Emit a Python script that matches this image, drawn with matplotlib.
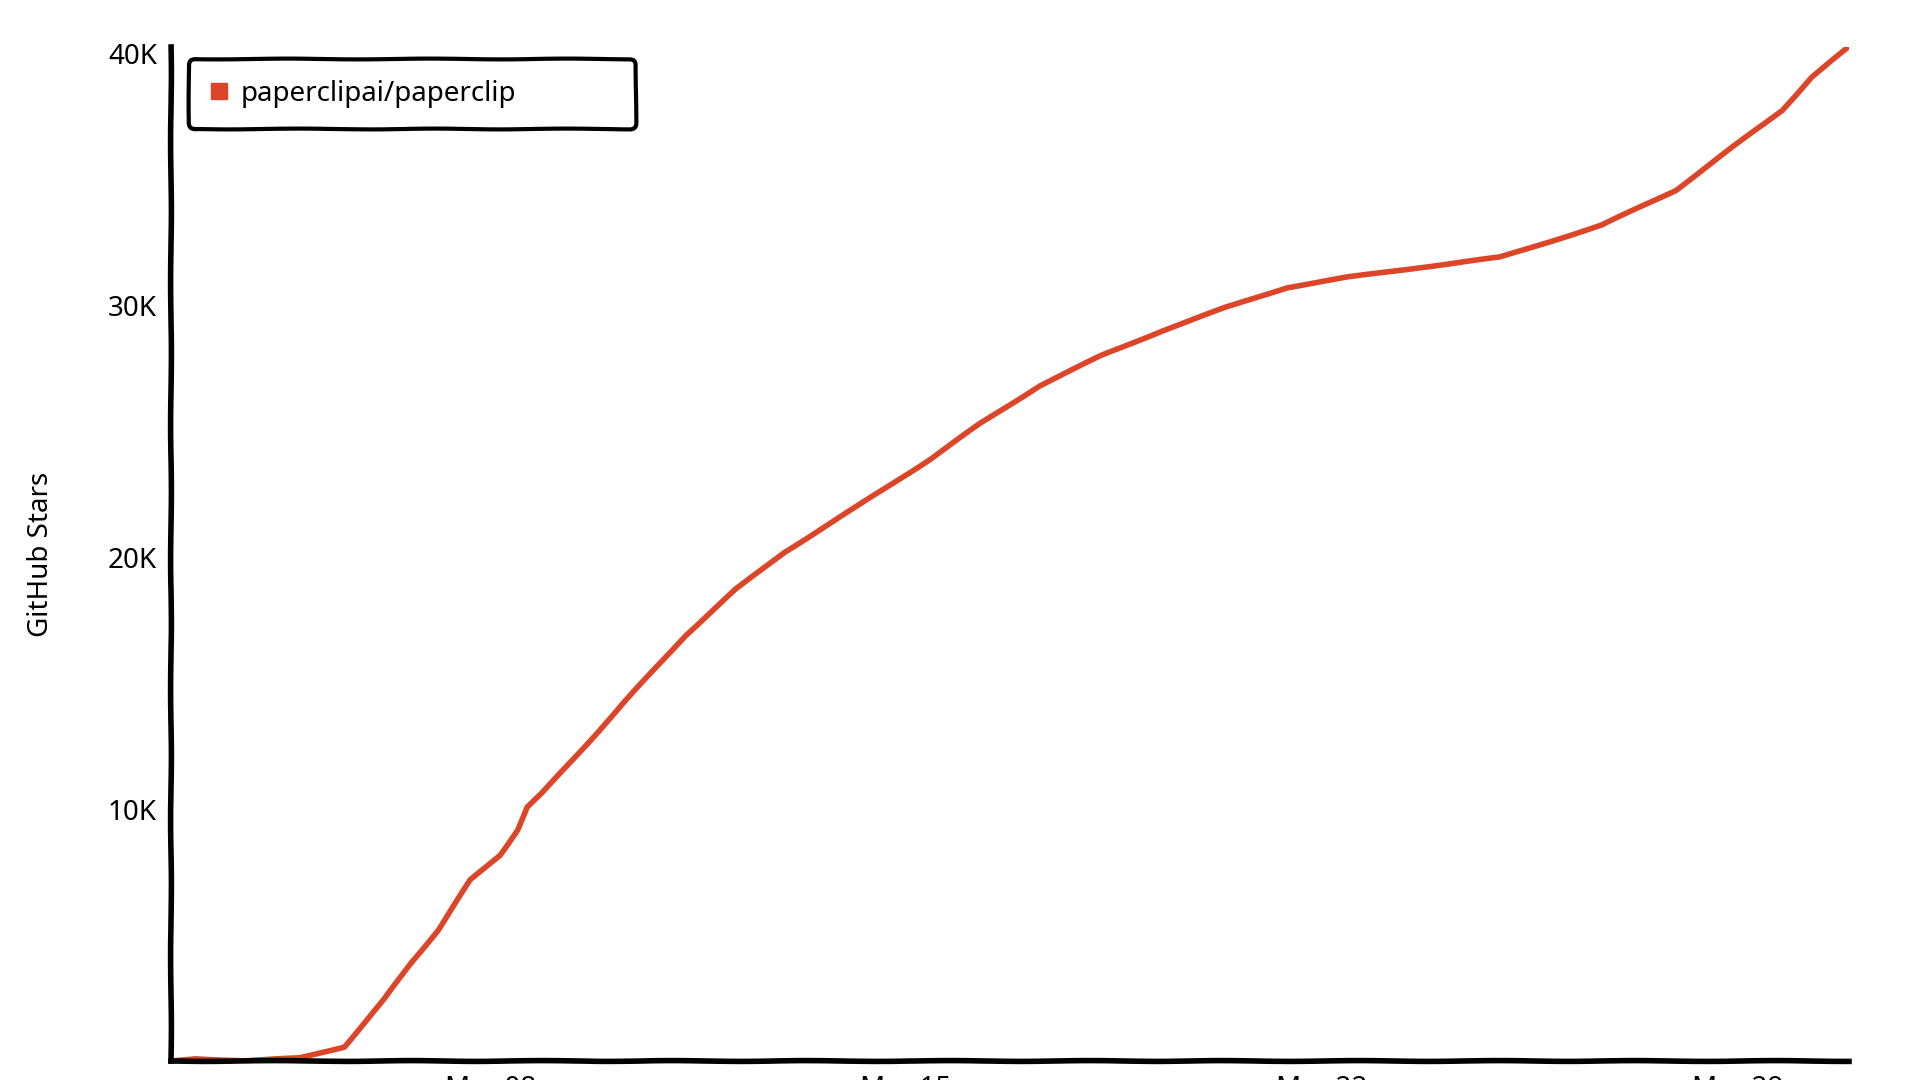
import pandas as pd
import matplotlib
matplotlib.use('Agg')
import matplotlib.pyplot as plt
import matplotlib.dates as mdates
from matplotlib.lines import Line2D
from matplotlib.ticker import FuncFormatter

# star history of paperclipai/paperclip
repo = 'paperclipai/paperclip'
dates = ['2026-03-02 15:00', '2026-03-03 01:00', '2026-03-03 21:00', '2026-03-04 19:00',
         '2026-03-05 13:00', '2026-03-06 05:00', '2026-03-06 16:00', '2026-03-07 03:00',
         '2026-03-07 16:00', '2026-03-08 04:00', '2026-03-08 11:00', '2026-03-08 15:00',
         '2026-03-08 21:00', '2026-03-09 14:00', '2026-03-10 07:00', '2026-03-11 07:00',
         '2026-03-12 03:00', '2026-03-12 23:00', '2026-03-14 04:00', '2026-03-15 10:00',
         '2026-03-16 06:00', '2026-03-17 06:00', '2026-03-18 07:00', '2026-03-19 08:00',
         '2026-03-20 09:00', '2026-03-21 10:00', '2026-03-22 10:00', '2026-03-23 16:00',
         '2026-03-25 00:00', '2026-03-26 17:00', '2026-03-27 23:00', '2026-03-28 22:00',
         '2026-03-29 18:00', '2026-03-30 06:00', '2026-03-30 21:00']
stars = [0, 100, 0, 120,
         560, 2420, 3890, 5200,
         7180, 8170, 9170, 10080,
         10630, 12460, 14330, 16900,
         18700, 20200, 22000, 23900,
         25300, 26800, 28000, 29000,
         29900, 30700, 31100, 31500,
         31900, 33170, 34560, 36270,
         37740, 39050, 40250]
tick_dates = ['2026-03-08', '2026-03-15', '2026-03-22', '2026-03-29']

line_color = '#dd4528'

plt.xkcd(scale=0.4, length=150, randomness=2)
plt.rcParams['font.family'] = ['Noto Sans', 'DejaVu Sans']
plt.rcParams['path.effects'] = []

x = pd.to_datetime(dates)
fig = plt.figure(figsize=(19.2, 10.8), dpi=100)
ax = fig.add_axes([0.089, 0.0176, 0.874, 0.939])

ax.plot(x, stars, color=line_color, linewidth=4)

ax.set_xlim(x[0], x[-1])
ax.set_ylim(0, max(stars))
ax.set_yticks([10000, 20000, 30000, 40000])
ax.yaxis.set_major_formatter(FuncFormatter(lambda v, p: '%dK' % (v / 1000)))
ax.set_xticks(pd.to_datetime(tick_dates))
ax.xaxis.set_major_formatter(mdates.DateFormatter('%b %d'))
ax.tick_params(axis='both', labelsize=20, length=0, pad=10)

ax.spines['top'].set_visible(False)
ax.spines['right'].set_visible(False)
ax.spines['left'].set_linewidth(4)
ax.spines['bottom'].set_linewidth(4)

ax.set_ylabel('GitHub Stars', fontsize=20, labelpad=38)

handle = Line2D([], [], marker='s', linestyle='none', color=line_color, markersize=11)
leg = ax.legend([handle], [repo], loc='upper left', fontsize=20,
                bbox_to_anchor=(0.011, 0.988), borderaxespad=0,
                borderpad=0.75, handletextpad=0.5, handlelength=0.6,
                fancybox=True, framealpha=1)
leg.get_frame().set_edgecolor('black')
leg.get_frame().set_linewidth(3)
leg._legend_box.align = 'left'
leg._legend_box.set_width(405)

fig.savefig('out.png', dpi=100)
